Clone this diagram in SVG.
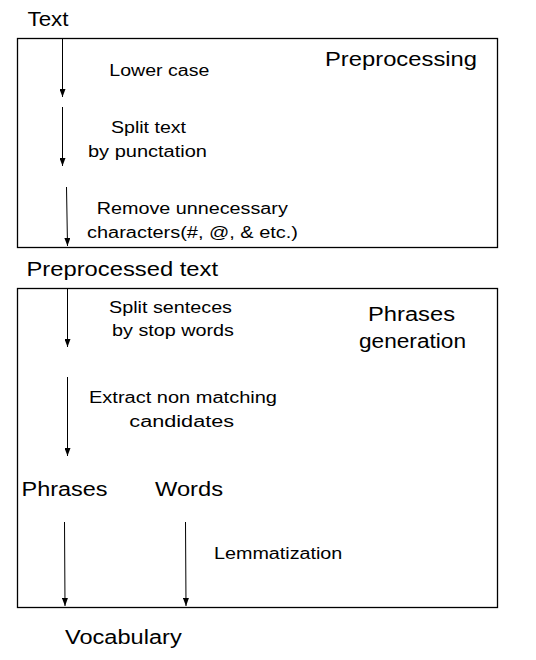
<svg xmlns="http://www.w3.org/2000/svg" width="536" height="660" viewBox="0 0 536 660">
<style>
.box{fill:#fff;stroke:#000;stroke-width:1.3}
.big{font-family:"Liberation Sans",Arial,sans-serif;font-size:20px;fill:#000}
.sm{font-family:"Liberation Sans",Arial,sans-serif;font-size:16px;fill:#000}
.c{text-anchor:middle}
.ln{stroke:#000;stroke-width:1;fill:none;marker-end:url(#ah)}
</style>
<defs>
<marker id="ah" viewBox="0 0 8 6" refX="8" refY="3" markerWidth="8" markerHeight="6" markerUnits="userSpaceOnUse" orient="auto">
<path d="M0,0 L8,3 L0,6 Z" fill="#000"/>
</marker>
</defs>
<rect width="536" height="660" fill="#fff"/>
<g id="preprocessing">
<rect class="box" x="17.5" y="38.5" width="480" height="209"/>
<text class="big c" x="401" y="66" textLength="152" lengthAdjust="spacingAndGlyphs">Preprocessing</text>
</g>
<g id="phrases-generation">
<rect class="box" x="17.5" y="288.5" width="480" height="319"/>
<text class="big c" x="411.5" y="321" textLength="87" lengthAdjust="spacingAndGlyphs">Phrases</text>
<text class="big c" x="412.5" y="347.5" textLength="107" lengthAdjust="spacingAndGlyphs">generation</text>
</g>
<g id="text-node"><text class="big" x="27.5" y="25.5" textLength="41" lengthAdjust="spacingAndGlyphs">Text</text></g>
<g id="lower-case"><text class="sm c" x="159.3" y="76" textLength="100" lengthAdjust="spacingAndGlyphs">Lower case</text></g>
<g id="split-text"><text class="sm c" x="148.5" y="132.5" textLength="75" lengthAdjust="spacingAndGlyphs">Split text</text><text class="sm c" x="147.5" y="156.5" textLength="119" lengthAdjust="spacingAndGlyphs">by punctation</text></g>
<g id="remove-chars"><text class="sm c" x="192.3" y="213.5" textLength="191" lengthAdjust="spacingAndGlyphs">Remove unnecessary</text><text class="sm c" x="192.5" y="237.5" textLength="211" lengthAdjust="spacingAndGlyphs">characters(#, @, &amp; etc.)</text></g>
<g id="preprocessed-text"><text class="big" x="26.5" y="275.5" textLength="191.5" lengthAdjust="spacingAndGlyphs">Preprocessed text</text></g>
<g id="split-sentences"><text class="sm c" x="170.5" y="313" textLength="123" lengthAdjust="spacingAndGlyphs">Split senteces</text><text class="sm c" x="173" y="336" textLength="122" lengthAdjust="spacingAndGlyphs">by stop words</text></g>
<g id="extract"><text class="sm c" x="183" y="402.5" textLength="188" lengthAdjust="spacingAndGlyphs">Extract non matching</text><text class="sm c" x="181.7" y="426.5" textLength="104.7" lengthAdjust="spacingAndGlyphs">candidates</text></g>
<g id="phrases"><text class="big" x="21.5" y="496" textLength="86" lengthAdjust="spacingAndGlyphs">Phrases</text></g>
<g id="words"><text class="big" x="155" y="496" textLength="68" lengthAdjust="spacingAndGlyphs">Words</text></g>
<g id="lemmatization"><text class="sm" x="214" y="559" textLength="128.3" lengthAdjust="spacingAndGlyphs">Lemmatization</text></g>
<g id="vocabulary"><text class="big" x="65" y="644" textLength="116.7" lengthAdjust="spacingAndGlyphs">Vocabulary</text></g>
<g id="connectors">
<line class="ln" x1="62.5" y1="38" x2="62.5" y2="97"/>
<line class="ln" x1="62.5" y1="107" x2="62.5" y2="166"/>
<line class="ln" x1="66.5" y1="187" x2="67.5" y2="246"/>
<line class="ln" x1="67.5" y1="288" x2="67.5" y2="347"/>
<line class="ln" x1="67.5" y1="377" x2="67.5" y2="456"/>
<line class="ln" x1="64.5" y1="522" x2="65" y2="606"/>
<line class="ln" x1="185.5" y1="522" x2="186" y2="606"/>
</g>
</svg>
